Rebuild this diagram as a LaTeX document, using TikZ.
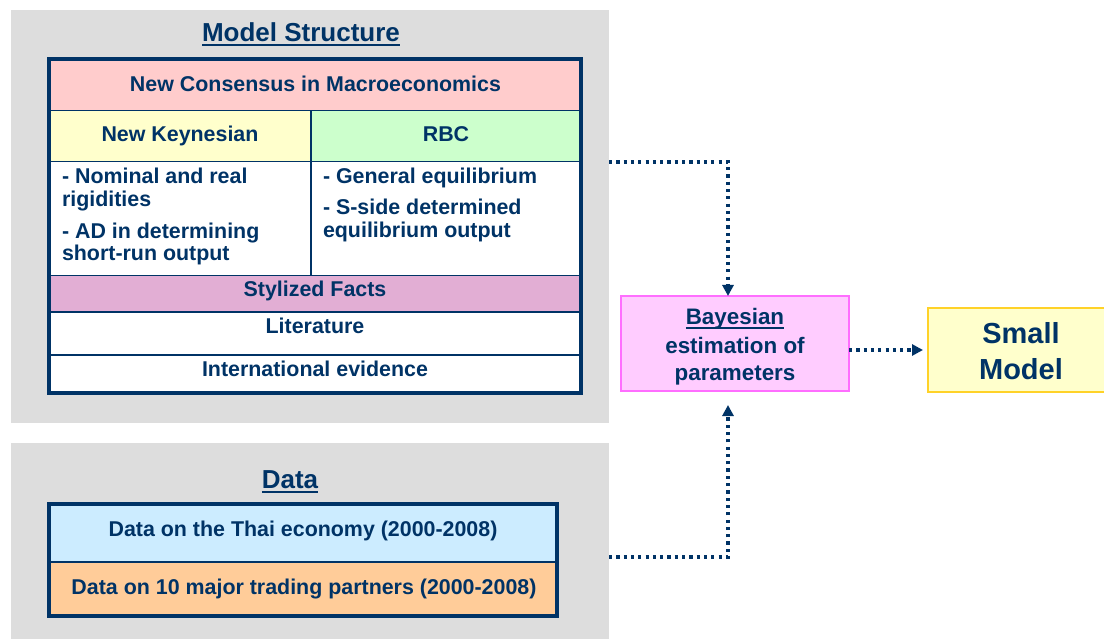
\documentclass[tikz,border=0pt]{standalone}
\usepackage{fontspec}
\setmainfont{Liberation Sans}
\usetikzlibrary{arrows.meta}
\definecolor{navy}{RGB}{0,51,102}
\definecolor{panelgray}{RGB}{221,221,221}
\definecolor{cpink}{RGB}{255,204,204}
\definecolor{cyellow}{RGB}{255,255,204}
\definecolor{cgreen}{RGB}{204,255,204}
\definecolor{clav}{RGB}{226,174,212}
\definecolor{cblue}{RGB}{204,236,255}
\definecolor{corange}{RGB}{255,204,153}
\definecolor{cmag}{RGB}{255,204,255}
\definecolor{cmagline}{RGB}{255,110,255}
\definecolor{cgold}{RGB}{255,210,40}
\begin{document}
\begin{tikzpicture}[x=1pt,y=-1pt,
  every node/.style={inner sep=0pt, outer sep=0pt, text=navy, font=\bfseries\fontsize{21.4}{23}\selectfont},
  panel/.style={fill=panelgray, draw=none, anchor=north west},
  title/.style={font=\bfseries\fontsize{26}{28}\selectfont, anchor=base},
  ctext/.style={anchor=base},
  ltext/.style={anchor=base west},
  thin/.style={draw=navy, line width=1.5pt},
  outer/.style={draw=navy, line width=3.5pt},
  uline/.style={draw=navy, line width=2pt},
  link/.style={draw=navy, line width=3.4pt, dash pattern=on 3.2pt off 4.1pt, -{Triangle[length=11pt,width=11pt]}}]
\useasboundingbox (0,0) rectangle (1104,639);
% panels
\node[panel, minimum width=598pt, minimum height=413pt] (p1) at (11,10) {};
\node[panel, minimum width=598pt, minimum height=200pt] (p2) at (11,443) {};
% titles
\node[title] (ms) at (301,42) {Model Structure};
\draw[uline] ([yshift=-3.5pt]ms.base west) -- ([yshift=-3.5pt]ms.base east);
\node[title] (dt) at (290,488) {Data};
\draw[uline] ([yshift=-3.5pt]dt.base west) -- ([yshift=-3.5pt]dt.base east);
% model table fills
\fill[cpink] (49,59) rectangle (581,110.5);
\fill[cyellow] (49,110.5) rectangle (311,161.5);
\fill[cgreen] (311,110.5) rectangle (581,161.5);
\fill[white] (49,161.5) rectangle (581,275.5);
\fill[clav] (49,275.5) rectangle (581,312);
\fill[white] (49,312) rectangle (581,393);
\draw[thin] (49,110.5) -- (581,110.5);
\draw[thin] (49,161.5) -- (581,161.5);
\draw[thin] (49,275.5) -- (581,275.5);
\draw[thin] (49,312) -- (581,312);
\draw[thin] (49,355) -- (581,355);
\draw[thin] (311,110.5) -- (311,275.5);
\draw[outer] (49,59) rectangle (581,393);
% model table texts
\node[ctext] (nc) at (315.5,92) {New Consensus in Macroeconomics};
\node[ctext] (nk) at (180,142) {New Keynesian};
\node[ctext] (rbc) at (446,142) {RBC};
\node[ltext] (nk1) at (62,184) {- Nominal and real};
\node[ltext] (nk2) at (62,207) {rigidities};
\node[ltext] (nk3) at (62,238.5) {- AD in determining};
\node[ltext] (nk4) at (62,261) {short-run output};
\node[ltext] (rb1) at (323,183.5) {- General equilibrium};
\node[ltext] (rb2) at (323,214.5) {- S-side determined};
\node[ltext] (rb3) at (323,237.5) {equilibrium output};
\node[ctext] (sf) at (315,297) {Stylized Facts};
\node[ctext] (lit) at (315,334) {Literature};
\node[ctext] (ie) at (315,376) {International evidence};
% data table
\fill[cblue] (49,504) rectangle (557,562);
\fill[corange] (49,562) rectangle (557,616);
\draw[thin] (49,562) -- (557,562);
\draw[outer] (49,504) rectangle (557,616);
\node[ctext] (d1) at (303,536) {Data on the Thai economy (2000-2008)};
\node[ctext] (d2) at (304,594) {Data on 10 major trading partners (2000-2008)};
% Bayesian box
\node[anchor=north west, fill=cmag, draw=cmagline, line width=1.3pt, minimum width=228pt, minimum height=95pt] (bayes) at (621,296) {};
\node[ctext, font=\bfseries\fontsize{22.4}{24}\selectfont] (b1) at (735,325) {Bayesian};
\draw[uline] ([yshift=-3pt]b1.base west) -- ([yshift=-3pt]b1.base east);
\node[ctext, font=\bfseries\fontsize{22.4}{24}\selectfont] (b2) at (735,353) {estimation of};
\node[ctext, font=\bfseries\fontsize{22.4}{24}\selectfont] (b3) at (735,380) {parameters};
% Small model box
\node[anchor=north west, fill=cyellow, draw=cgold, line width=1.8pt, minimum width=190pt, minimum height=84pt] (small) at (928,308) {};
\node[ctext, font=\bfseries\fontsize{29}{31}\selectfont] (s1) at (1021,343) {Small};
\node[ctext, font=\bfseries\fontsize{29}{31}\selectfont] (s2) at (1021,379) {Model};
% connectors
\coordinate (c1) at (728,162);
\coordinate (c2) at (728,557);
\coordinate (c3) at (0,350);
\draw[link] (c1 -| p1.east) -- (c1) -- (c1 |- bayes.north);
\draw[link, shorten >=14pt] (c2 -| p2.east) -- (c2) -- (c2 |- bayes.south);
\draw[link, shorten >=5pt] (c3 -| bayes.east) -- (c3 -| small.west);
\end{tikzpicture}
\end{document}
